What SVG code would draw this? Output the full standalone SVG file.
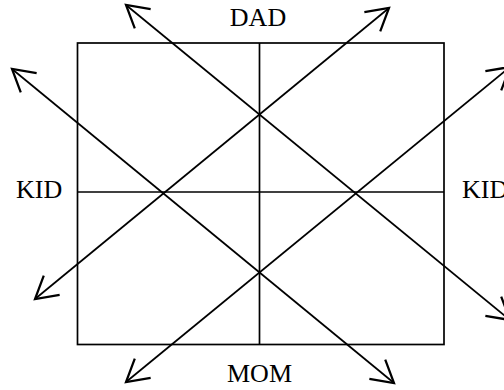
<svg xmlns="http://www.w3.org/2000/svg" width="504" height="390" viewBox="0 0 504 390">
<defs>
<style>
.ln{stroke:#000;stroke-width:1.7;fill:none}
.t{font-family:"Liberation Serif","Times New Roman",serif;font-size:26px;fill:#000}
</style>
<marker id="ah" markerUnits="userSpaceOnUse" markerWidth="30" markerHeight="30" viewBox="-20 -12 24 24" refX="0" refY="0" orient="auto-start-reverse">
<path d="M-17.3,-10 L0,0 L-17.3,10" stroke="#000" stroke-width="1.8" fill="none"/>
</marker>
</defs>
<rect width="504" height="390" fill="#fff"/>
<g id="grid">
<rect class="ln" x="77.5" y="43" width="366.5" height="301.5"/>
<line class="ln" x1="259.5" y1="43" x2="259.5" y2="344.5"/>
<line class="ln" x1="77.5" y1="192" x2="444" y2="192"/>
</g>
<g id="connectors">
<line class="ln" x1="126" y1="5" x2="510" y2="320" marker-start="url(#ah)" marker-end="url(#ah)"/>
<line class="ln" x1="12" y1="69" x2="394" y2="383" marker-start="url(#ah)" marker-end="url(#ah)"/>
<line class="ln" x1="35" y1="299" x2="389" y2="8" marker-start="url(#ah)" marker-end="url(#ah)"/>
<line class="ln" x1="126" y1="382" x2="510" y2="67" marker-start="url(#ah)" marker-end="url(#ah)"/>
</g>
<g id="dad"><text class="t" x="258" y="26" text-anchor="middle">DAD</text></g>
<g id="mom"><text class="t" x="259.5" y="382" text-anchor="middle">MOM</text></g>
<g id="kid-left"><text class="t" x="16" y="198">KID</text></g>
<g id="kid-right"><text class="t" x="462" y="198">KID</text></g>
</svg>
